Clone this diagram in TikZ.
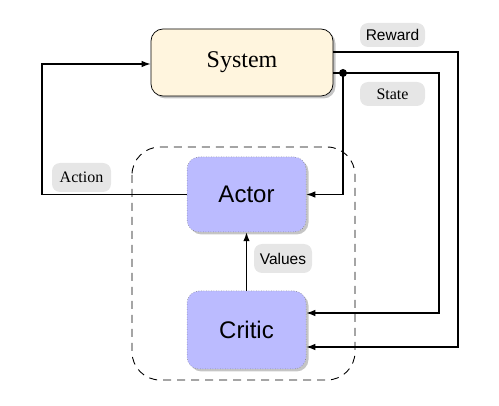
\documentclass[tikz,border=0pt]{standalone}
\usepackage{fontspec}
\setmainfont{Liberation Serif}
\setsansfont{Liberation Sans}
\usetikzlibrary{arrows.meta,shadows,calc}
\definecolor{sysfill}{HTML}{FFF5DE}
\definecolor{acfill}{HTML}{BBBBFF}
\definecolor{lblfill}{HTML}{E6E6E6}
\begin{document}
\begin{tikzpicture}[x=1pt,y=-1pt,
  shadowed/.style={drop shadow={shadow xshift=2.5pt,shadow yshift=-2.5pt,fill=black!45}},
  sysbox/.style={draw=black, line width=0.7pt, fill=sysfill, rounded corners=12pt,
    minimum width=182pt, minimum height=67pt, font=\fontsize{24}{28}\selectfont, shadowed},
  acbox/.style={draw=black!60, dotted, line width=0.5pt, fill=acfill, rounded corners=12pt,
    minimum width=119pt, font=\sffamily\fontsize{24}{28}\selectfont, shadowed},
  lbl/.style={fill=lblfill, rounded corners=8pt, inner sep=0pt},
  conn/.style={line width=1.2pt, draw=black},
  arr/.style={conn, -{Latex[length=9pt,width=6.5pt]}}
]
\useasboundingbox (0,0) rectangle (499,406);
% dashed container
\draw[draw=black, dash pattern=on 8pt off 6pt, line width=0.9pt, rounded corners=28pt]
  (132,147) rectangle (355,380);
% boxes
\node[sysbox] (sys) at (242,62.5) {System};
\node[acbox, minimum height=75pt] (actor) at (246.5,194.5) {Actor};
\node[acbox, minimum height=78pt] (critic) at (246.5,330) {Critic};
% labels
\node[lbl, minimum width=65pt, minimum height=24pt, font=\sffamily\fontsize{15.5}{18}\selectfont] (lrew) at (392.5,35) {Reward};
\node[lbl, minimum width=65pt, minimum height=24pt, font=\fontsize{16}{19}\selectfont] (lsta) at (392.5,94) {State};
\node[lbl, minimum width=59pt, minimum height=29pt, font=\fontsize{16}{19}\selectfont] (lact) at (81.5,177.5) {Action};
\node[lbl, minimum width=58pt, minimum height=29pt, font=\sffamily\fontsize{15.5}{18}\selectfont] (lval) at (283,258.5) {Values};
% coordinates
\coordinate (rw1) at (458,52);
\coordinate (rw2) at (458,347);
\coordinate (dot) at (343,73);
\coordinate (st1) at (439,73);
\coordinate (st2) at (439,313);
\coordinate (st3) at (343,194.5);
\coordinate (ac1) at (42,194.5);
\coordinate (ac2) at (42,64);
% connectors
\draw[arr] (sys.east |- rw1) -- (rw1) -- (rw2) -- (critic.east |- rw2);
\draw[arr] (sys.east |- dot) -- (st1) -- (st2) -- (critic.east |- st2);
\draw[arr] (dot) -- (st3) -- (actor.east);
\fill (dot) circle (4pt);
\draw[arr] (actor.west) -- (ac1) -- (ac2) -- (sys.west |- ac2);
\draw[arr] (critic.north) -- (actor.south);
\end{tikzpicture}
\end{document}
